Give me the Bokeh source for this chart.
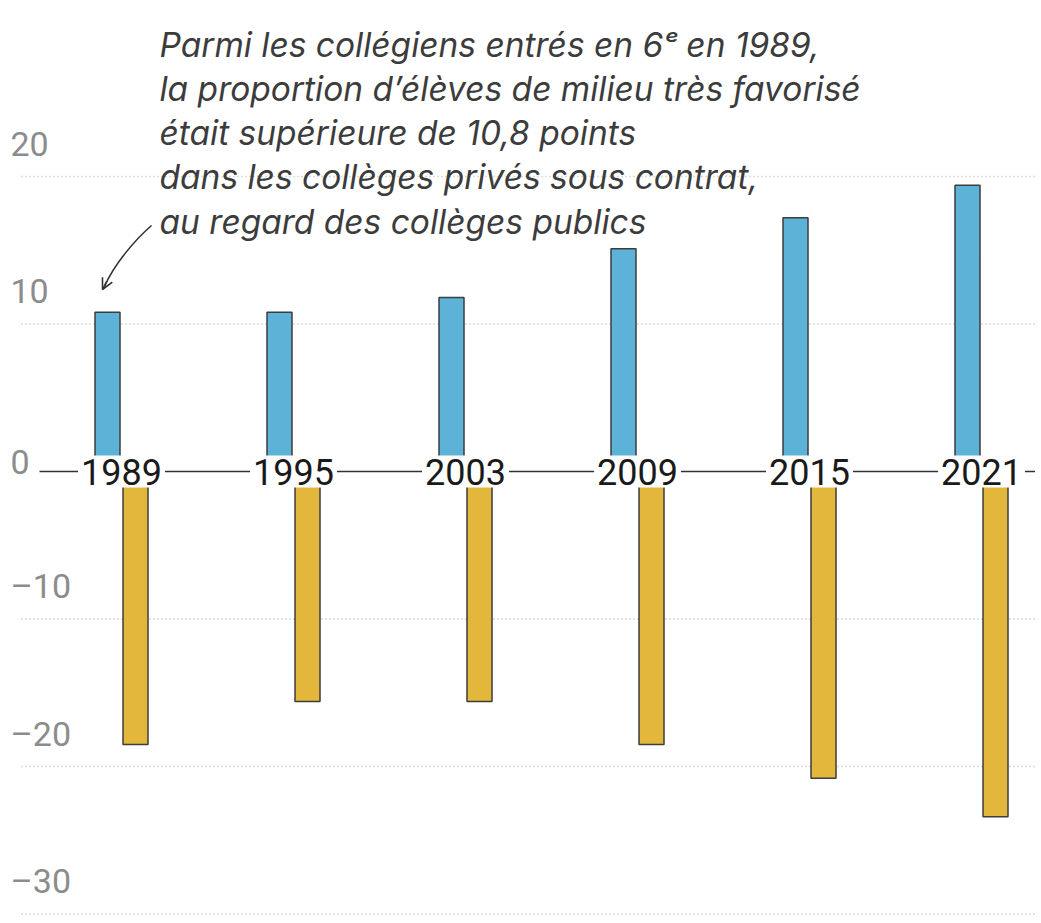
from bokeh.plotting import figure
from bokeh.models import ColumnDataSource, Range1d, Arrow, OpenHead
from bokeh.core.properties import value
from bokeh.embed import file_html
from bokeh.resources import INLINE

# ---- data ----
years = ["1989", "1995", "2003", "2009", "2015", "2021"]
tres_favorise = [10.8, 10.8, 11.8, 15.1, 17.2, 19.4]      # blue: écart privé - public (points)
defavorise = [-18.5, -15.6, -15.6, -18.5, -20.8, -23.4]   # yellow: écart privé - public (points)
y_ticks = [20, 10, 0, -10, -20, -30]
y_tick_labels = ["20", "10", "0", "–10", "–20", "–30"]
note_lines = [
    "Parmi les collégiens entrés en 6ᵉ en 1989,",
    "la proportion d’élèves de milieu très favorisé",
    "était supérieure de 10,8 points",
    "dans les collèges privés sous contrat,",
    "au regard des collèges publics",
]

# ---- layout helpers (page pixels -> data) ----
ORIGIN = 1.0                          # page offset of the plot frame
W, H = 1035, 915
X0_PX, STEP_PX = 122.0, 172.0        # page x of first category centre, spacing
Y0_PX, PX_PER_UNIT = 472.0, 14.75    # page y of zero, pixels per point


def px_x(px):
    return (px - X0_PX) / STEP_PX


def px_y(py):
    return (Y0_PX - py) / PX_PER_UNIT


x_range = Range1d(px_x(ORIGIN), px_x(ORIGIN + W))
y_range = Range1d(px_y(ORIGIN + H), px_y(ORIGIN))

p = figure(width=W, height=H, x_range=x_range, y_range=y_range,
           output_backend="svg", toolbar_location=None,
           min_border=0, min_border_left=0, min_border_right=0,
           min_border_top=0, min_border_bottom=0)
p.xaxis.visible = False
p.yaxis.visible = False
p.xgrid.visible = False
p.ygrid.visible = False
p.outline_line_color = None
p.background_fill_color = "white"
p.border_fill_color = "white"

idx = list(range(len(years)))
off = 14 / STEP_PX
bw = 25 / STEP_PX

# dotted gridlines (non-zero ticks)
grid_vals = [t for t in y_ticks if t != 0]
p.segment(x0=[px_x(22)] * len(grid_vals), x1=[px_x(1045)] * len(grid_vals),
          y0=grid_vals, y1=grid_vals, line_color="#b8b8b8", line_width=1.3,
          line_dash="1 3")

# bars
src = ColumnDataSource(dict(
    xb=[i - off for i in idx], xo=[i + off for i in idx],
    pos=tres_favorise, neg=defavorise))
p.vbar(x="xb", top="pos", bottom=0, width=bw, source=src,
       fill_color="#5db2d8", line_color="#3d3d3d", line_width=1.5)
p.vbar(x="xo", top=0, bottom="neg", width=bw, source=src,
       fill_color="#e3b63c", line_color="#3d3d3d", line_width=1.5)

# zero line
p.segment(x0=[px_x(40)], x1=[px_x(1045)], y0=[0], y1=[0],
          line_color="#333333", line_width=1.5)

# year labels on the zero line with white background
p.text(x=idx, y=[0] * len(idx), text=years, text_align="center",
       text_baseline="middle", text_font=value("Roboto"),
       text_font_size="36px", text_color="#1a1a1a",
       background_fill_color="white", padding=3, border_radius=8)

# y tick labels, above their gridlines (negative y_offset = up)
p.text(x=[px_x(11)] * len(y_ticks), y=y_ticks, text=y_tick_labels,
       text_align="left", text_baseline="middle",
       y_offset=[-10 if t == 0 else -33 for t in y_ticks],
       text_font=value("Roboto"),
       text_font_size="34px", text_color="#8c8c8c")

# annotation
n = len(note_lines)
p.text(x=[px_x(160)] * n, y=[px_y(45)] * n, text=note_lines,
       y_offset=[44.3 * k for k in range(n)],
       text_align="left", text_baseline="alphabetic",
       text_font=value("Inter"), text_font_style="italic",
       text_font_size="33.5px", text_color="#3c3c3c")

# curved arrow pointing to the 1989 bar
p.bezier(x0=[px_x(152)], y0=[px_y(226)], x1=[px_x(105)], y1=[px_y(287)],
         cx0=[px_x(136)], cy0=[px_y(240)], cx1=[px_x(115)], cy1=[px_y(264)],
         line_color="#333333", line_width=1.6)
p.add_layout(Arrow(end=OpenHead(size=11, line_color="#333333", line_width=1.6),
                   x_start=px_x(107), y_start=px_y(282),
                   x_end=px_x(103), y_end=px_y(290),
                   line_color="#333333", line_width=1.6))

open("out.html", "w").write(file_html(p, INLINE))
